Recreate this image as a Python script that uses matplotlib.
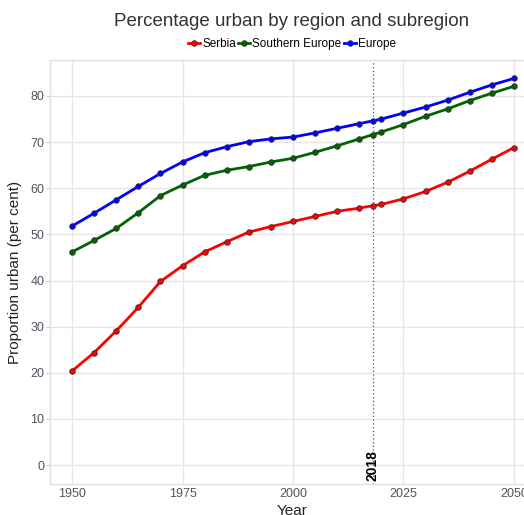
import matplotlib
matplotlib.use("Agg")
import matplotlib.pyplot as plt
from matplotlib.lines import Line2D

plt.rcParams['font.family'] = ['Liberation Sans', 'DejaVu Sans']

years = [1950, 1955, 1960, 1965, 1970, 1975, 1980, 1985, 1990, 1995, 2000,
         2005, 2010, 2015, 2018, 2020, 2025, 2030, 2035, 2040, 2045, 2050]
serbia = [20.4, 24.4, 29.1, 34.2, 39.8, 43.2, 46.2, 48.4, 50.5, 51.7, 52.8,
          53.9, 55.0, 55.7, 56.2, 56.5, 57.7, 59.3, 61.3, 63.7, 66.3, 68.8]
southern_europe = [46.2, 48.7, 51.3, 54.7, 58.4, 60.7, 62.8, 63.9, 64.7, 65.7, 66.5,
                   67.8, 69.2, 70.7, 71.6, 72.2, 73.8, 75.6, 77.2, 79.0, 80.6, 82.1]
europe = [51.8, 54.6, 57.5, 60.4, 63.2, 65.7, 67.7, 69.0, 70.1, 70.7, 71.1,
          72.0, 73.0, 74.0, 74.6, 75.0, 76.3, 77.6, 79.1, 80.8, 82.4, 83.8]

series_names = ["Serbia", "Southern Europe", "Europe"]
series_colors = ["#FF0000", "#006400", "#0000FF"]
x_ticks = [1950, 1975, 2000, 2025, 2050]
y_ticks = [0, 10, 20, 30, 40, 50, 60, 70, 80]
ref_year = 2018

W, H = 524, 515
fig = plt.figure(figsize=(W / 100, H / 100), dpi=100)
# axes: left 50px, right 536px (extends past figure), top 60px, bottom 484px
ax = fig.add_axes([50 / W, (H - 484) / H, 486 / W, (484 - 60) / H])
ax.set_xlim(1945, 2055)
ax.set_ylim(-4.1, 87.8)

for name, vals, col in zip(series_names, [serbia, southern_europe, europe], series_colors):
    ax.plot(years, vals, color=col, lw=2, marker='o', ms=4,
            mfc=col, mec='#333333', mew=0.6, zorder=3, label=name)

ax.axvline(ref_year, color='#555555', lw=0.9, ls=(0, (1, 2)), zorder=2)
ax.text(ref_year, -3.4, str(ref_year), rotation=90, ha='center', va='bottom',
        fontsize=10, fontweight='bold', color='black', zorder=4)

ax.set_xticks(x_ticks)
ax.set_yticks(y_ticks)
ax.grid(True, color='#E6E6E6', lw=1)
ax.set_axisbelow(True)
for s in ax.spines.values():
    s.set_color('#E0E0E0')
    s.set_linewidth(1)
ax.tick_params(axis='y', length=3, color='#CCCCCC', labelsize=9, labelcolor='#4D5560', pad=1)
ax.tick_params(axis='x', length=0, labelsize=9, labelcolor='#4D5560', pad=3)

ax.set_ylabel("Proportion urban (per cent)", fontsize=11, color='#222222', labelpad=6)
fig.text(292 / W, 1 - 511 / H, "Year", ha='center', va='center', fontsize=11, color='#222222')

fig.text(292 / W, 1 - 22 / H, "Percentage urban by region and subregion",
         ha='center', va='center', fontsize=13.5, color='#333333')

handles = [Line2D([0], [0], color=c, lw=2, marker='o', ms=4, mfc=c, mec='#333333', mew=0.6)
           for c in series_colors]
fig.legend(handles, series_names, loc='center', bbox_to_anchor=(292 / W, 1 - 44 / H),
           ncol=3, frameon=False, fontsize=8.5, handlelength=1.0, handletextpad=0.2,
           columnspacing=0.2, borderaxespad=0, borderpad=0)

fig.savefig("out.png", dpi=100)
